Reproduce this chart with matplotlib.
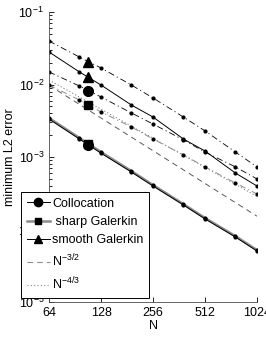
import numpy as np
import matplotlib
matplotlib.use("Agg")
import matplotlib.pyplot as plt
from matplotlib.lines import Line2D
from matplotlib.ticker import FixedLocator, NullLocator, LogLocator

plt.rcParams['font.family'] = ['Liberation Sans', 'DejaVu Sans']
plt.rcParams['mathtext.fontset'] = 'custom'
plt.rcParams['mathtext.rm'] = 'Liberation Sans'
plt.rcParams['mathtext.it'] = 'Liberation Sans:italic'
plt.rcParams['mathtext.bf'] = 'Liberation Sans:bold'
plt.rcParams['lines.scale_dashes'] = False

# ---- data ----
N = [64, 96, 128, 192, 256, 384, 512, 768, 1024]
colloc_a = [0.00334, 0.00177, 0.00113, 0.000621, 0.000398, 0.000218, 0.000140, 7.88e-5, 5.05e-5]
sharp_a = [0.00345, 0.00183, 0.00117, 0.000640, 0.000410, 0.000224, 0.000144, 8.1e-5, 5.2e-5]
smooth_a = [0.0281, 0.0149, 0.00984, 0.00521, 0.00356, 0.00177, 0.00121, 0.000601, 0.000398]
colloc_b = [0.0149, 0.00953, 0.00673, 0.00405, 0.00285, 0.00172, 0.00117, 0.00073, 0.000498]
sharp_b = [0.00984, 0.00611, 0.00418, 0.00259, 0.00177, 0.00107, 0.00073, 0.000438, 0.000309]
smooth_b = [0.0398, 0.0239, 0.0169, 0.00984, 0.00652, 0.00356, 0.00229, 0.00117, 0.00073]
ref32_coef = 5.0     # C * N^(-3/2)
ref43_coef = 2.95    # C * N^(-4/3)
label_N = 108        # N where the big identifying markers sit
xtick_vals = [64, 128, 256, 512, 1024]
xtick_labels = ['64', '128', '256', '512', '1024']
legend_labels = ['Collocation', ' sharp Galerkin', 'smooth Galerkin',
                 r'N$^{-3/2}$', r'N$^{-4/3}$']

W, H = 266, 341
fig = plt.figure(figsize=(W / 100, H / 100), dpi=100)
ax = fig.add_axes([49 / W, 1 - 302 / H, 208 / W, 290 / H])
ax.set_xscale('log', base=2)
ax.set_yscale('log')

Na = np.array(N, dtype=float)
dashdot = (0, (4.5, 2.2, 0.8, 2.2))
dashed = (0, (4.0, 3.0))
dotted = (0, (0.8, 1.6))
gray = '0.55'

def big_marker(series, marker, color='k', ms=7):
    v = 10 ** np.interp(np.log(label_N), np.log(Na), np.log10(series))
    ax.plot([label_N], [v], marker=marker, color=color, ms=ms, ls='none', zorder=5)

# reference lines
ax.plot(Na, ref32_coef * Na ** (-1.5), color='0.35', lw=0.7, ls=dashed)
ax.plot(Na, ref43_coef * Na ** (-4.0 / 3.0), color='0.45', lw=0.7, ls=dotted)

# upper group (dash-dot / solid)
ax.plot(Na, smooth_b, color='k', lw=0.6, ls=dashdot, marker='.', ms=4)
ax.plot(Na, smooth_a, color='k', lw=0.7, ls='-', marker='.', ms=4)
ax.plot(Na, colloc_b, color='k', lw=0.6, ls=dashdot, marker='.', ms=4)
ax.plot(Na, sharp_b, color=gray, lw=0.7, ls=dashdot, marker='.', ms=4, mfc='k', mec='k')

# lower group
ax.plot(Na, sharp_a, color=gray, lw=1.8, ls='-', marker='.', ms=4, mfc='k', mec='k')
ax.plot(Na, colloc_a, color='k', lw=0.7, ls='-', marker='.', ms=4)

big_marker(smooth_b, '^')
big_marker(smooth_a, '^')
big_marker(colloc_b, 'o')
big_marker(sharp_b, 's', ms=6)
big_marker(sharp_a, 's', ms=6)
big_marker(colloc_a, 'o')

ax.set_xlim(64, 1024)
ax.set_ylim(1e-5, 1e-1)
ax.xaxis.set_major_locator(FixedLocator(xtick_vals))
ax.xaxis.set_minor_locator(NullLocator())
ax.set_xticklabels(xtick_labels)
ax.yaxis.set_major_locator(LogLocator(base=10, numticks=10))
ax.yaxis.set_minor_locator(LogLocator(base=10, subs=np.arange(2, 10), numticks=10))
ax.tick_params(which='both', direction='in', labelsize=9, width=0.6, colors='k')
ax.tick_params(which='major', length=3.5)
ax.tick_params(which='minor', length=2)
ax.spines['top'].set_visible(False)
ax.spines['right'].set_visible(False)
for s in ('left', 'bottom'):
    ax.spines[s].set_linewidth(0.6)
    ax.spines[s].set_color('0.3')

ax.set_xlabel('N', fontsize=9, labelpad=1)
ax.set_ylabel('minimum L2 error', fontsize=9, labelpad=2)

handles = [
    Line2D([], [], color='k', lw=0.7, marker='o', ms=6),
    Line2D([], [], color=gray, lw=1.8, marker='s', ms=5, mfc='k', mec='k'),
    Line2D([], [], color='k', lw=0.7, marker='^', ms=6),
    Line2D([], [], color=gray, lw=0.8, ls=dashed),
    Line2D([], [], color='0.55', lw=0.8, ls=dotted),
]
leg = ax.legend(handles, legend_labels, loc='upper left',
                bbox_to_anchor=(-0.135, 0.379), borderaxespad=0,
                fontsize=9, handlelength=1.9, handletextpad=0.15,
                labelspacing=0.5, borderpad=0.45, fancybox=False,
                framealpha=1, edgecolor='k')
leg.get_frame().set_linewidth(0.7)
leg.set_zorder(10)

fig.savefig('out.png', dpi=100)
